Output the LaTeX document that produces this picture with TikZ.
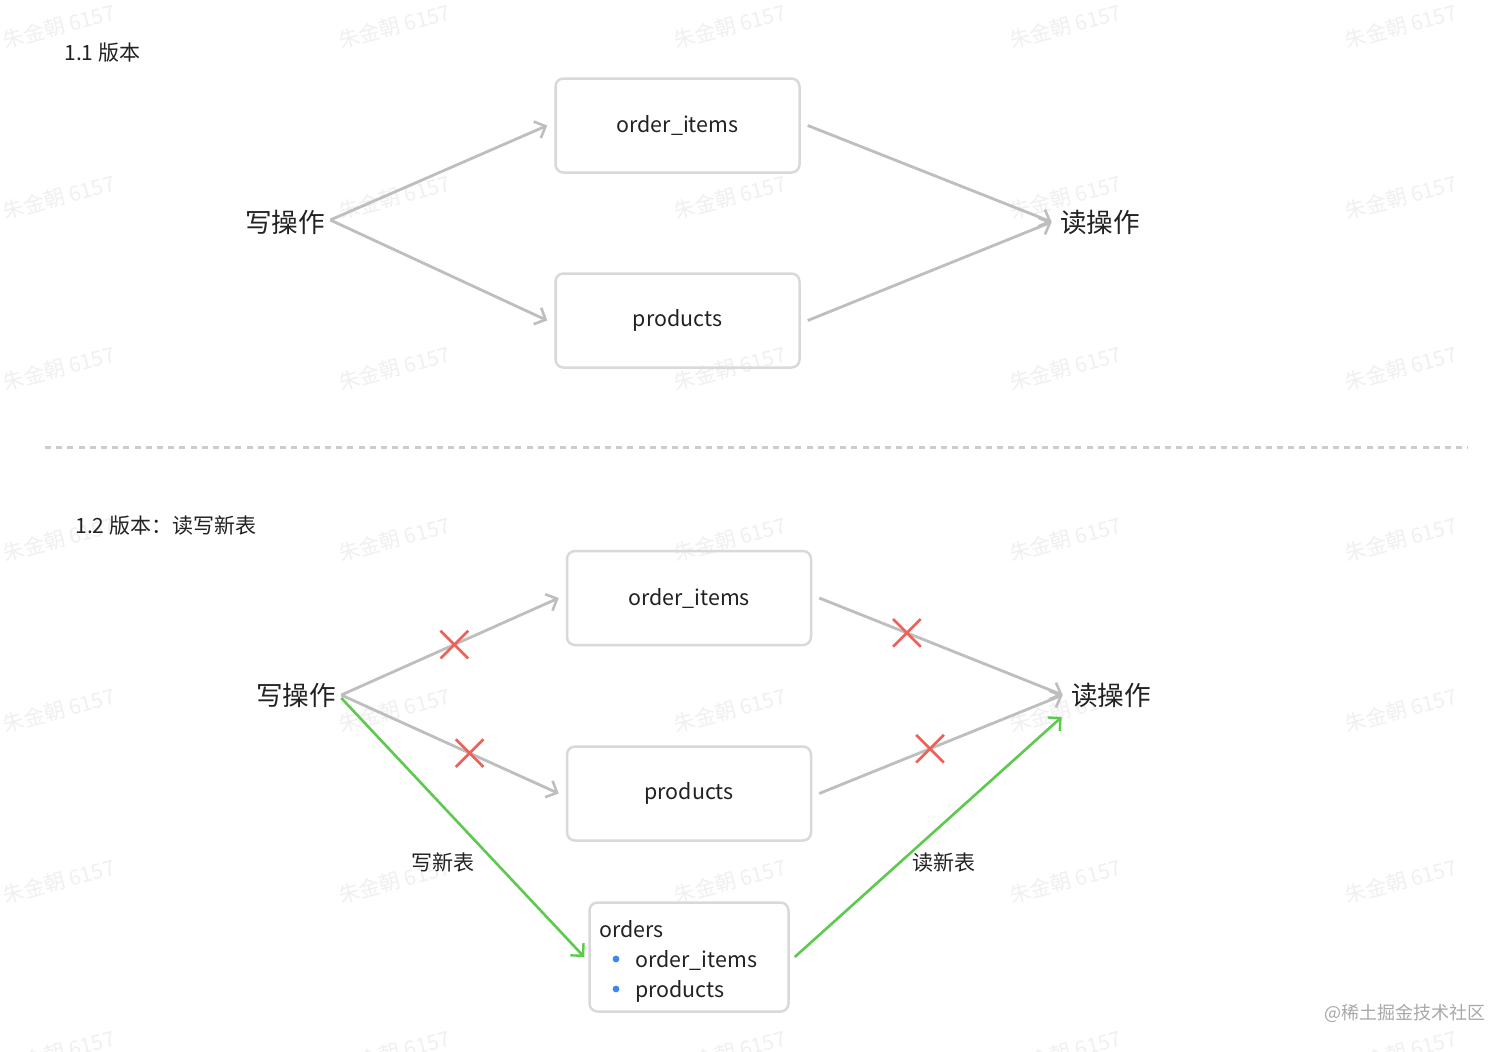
\documentclass[tikz,border=0pt]{standalone}
\usepackage{fontspec}
\setmainfont{Noto Sans CJK SC}
\usetikzlibrary{arrows.meta,shapes.misc}
\definecolor{boxline}{HTML}{D9D9D9}
\definecolor{arr}{HTML}{BEBEBE}
\definecolor{xred}{HTML}{EE6157}
\definecolor{grn}{HTML}{5DC94F}
\definecolor{wm}{HTML}{F0F0F0}
\definecolor{dotblue}{HTML}{3D86EF}
\definecolor{txt}{HTML}{222222}
\definecolor{sitegray}{HTML}{A8A8A8}
\begin{document}
\begin{tikzpicture}[x=0.5pt,y=-0.5pt,
  tbl/.style={draw=boxline, line width=1.25pt, rounded corners=4pt, minimum width=122pt, minimum height=47pt, font=\fontsize{10.7}{13}\selectfont, text=txt, inner sep=0pt},
  op/.style={font=\fontsize{13.3}{16}\selectfont, text=txt, inner sep=0pt},
  head/.style={font=\fontsize{10.5}{13}\selectfont, text=txt, inner sep=0pt, anchor=west},
  lbl/.style={font=\fontsize{10.5}{13}\selectfont, text=txt, inner sep=0pt},
  item/.style={font=\fontsize{10.7}{13}\selectfont, text=txt, inner sep=0pt, anchor=base west},
  flow/.style={draw=arr, line width=1.4pt, -{Straight Barb[length=4.5pt,width=9pt,line width=1.3pt]}},
  newflow/.style={draw=grn, line width=1.3pt, -{Straight Barb[length=4.5pt,width=9pt,line width=1.2pt]}},
  xmark/.style={cross out, draw=xred, line width=1.35pt, minimum size=12.5pt, inner sep=0pt, sloped=false},
  wmark/.style={font=\fontsize{10.5}{12}\selectfont, text=wm, rotate=15, inner sep=0pt},
  bullet/.style={circle, fill=dotblue, minimum size=3.4pt, inner sep=0pt}
]
\fill[white] (0,0) rectangle (1512,1051);
\useasboundingbox (0,0) rectangle (1512,1051);

% watermarks
\foreach \row in {0,...,6}{
  \foreach \col in {0,...,4}{
    \node[wmark] (wm-\row-\col) at ({59+335.5*\col},{26+171*\row}) {朱金朝 6157};
  }
}

% headings
\node[head] (h1) at (64,53) {1.1 版本};
\node[head] (h2) at (75,526) {1.2 版本：读写新表};

% ---------- version 1.1 ----------
\node[op] (w1) at (285,222) {写操作};
\node[op] (r1) at (1100,222) {读操作};
\node[tbl] (oi1) at (677.5,125.5) {order\_items};
\node[tbl] (pr1) at (677.5,320.5) {products};

\draw[flow] ([xshift=2.5pt,yshift=1pt]w1.east) -- ([xshift=-3.5pt]oi1.west);
\draw[flow] ([xshift=2.5pt,yshift=1pt]w1.east) -- ([xshift=-3.5pt]pr1.west);
\draw[flow] ([xshift=3.5pt]oi1.east) -- ([xshift=-4pt]r1.west);
\draw[flow] ([xshift=3.5pt]pr1.east) -- ([xshift=-4pt]r1.west);

% divider
\coordinate (dl) at (45,447);
\coordinate (dr) at (1468,447);
\draw[draw=boxline!85!gray, line width=1.5pt, dash pattern=on 3pt off 2.6pt] (dl) -- (dr);

% ---------- version 1.2 ----------
\node[op] (w2) at (296,695) {写操作};
\node[op] (r2) at (1111,695) {读操作};
\node[tbl] (oi2) at (689,598) {order\_items};
\node[tbl] (pr2) at (689,793.5) {products};
\node[draw=boxline, line width=1.25pt, rounded corners=4pt, minimum width=99.5pt, minimum height=54.5pt, inner sep=0pt] (ord) at (689,957) {};

\node[item] (t0) at (599,937) {orders};
\node[bullet] (b1) at (616,959) {};
\node[item] (t1) at (635,967) {order\_items};
\node[bullet] (b2) at (616,989) {};
\node[item] (t2) at (635,997) {products};

\draw[flow] ([xshift=2.5pt]w2.east) -- ([xshift=-3.5pt]oi2.west)
  node[xmark, pos=0.52] (x1) {};
\draw[flow] ([xshift=2.5pt]w2.east) -- ([xshift=-3.5pt]pr2.west)
  node[xmark, pos=0.59] (x2) {};
\draw[flow] ([xshift=3.5pt]oi2.east) -- ([xshift=-4pt]r2.west)
  node[xmark, pos=0.36] (x3) {};
\draw[flow] ([xshift=3.5pt]pr2.east) -- ([xshift=-4pt]r2.west)
  node[xmark, pos=0.455] (x4) {};

\coordinate (gin) at ([xshift=-4.5pt,yshift=-11pt]r2.west);
\draw[newflow] ([xshift=2.5pt,yshift=-1.5pt]w2.east) -- ([xshift=-2pt]ord.west)
  node[lbl, pos=0.635, xshift=-26.5pt] (l1) {写新表};
\draw[newflow] ([xshift=2.5pt]ord.east) -- (gin)
  node[lbl, pos=0.394, xshift=22pt] (l2) {读新表};

% site mark
\node[font=\fontsize{9}{11}\selectfont, text=sitegray, inner sep=0pt] (site) at (1405,1013) {@稀土掘金技术社区};
\end{tikzpicture}
\end{document}
